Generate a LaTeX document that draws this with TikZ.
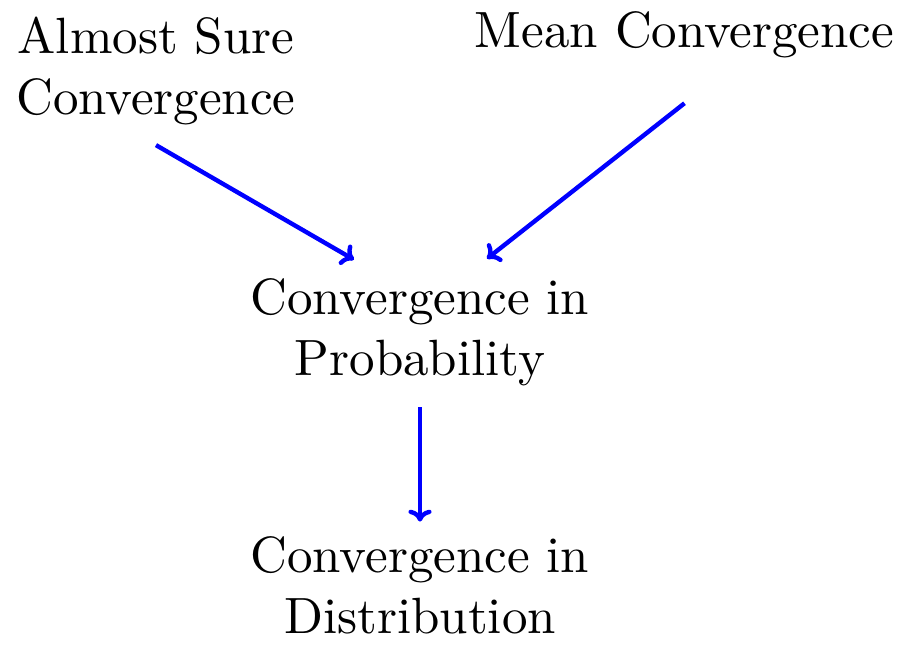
\documentclass[tikz,border=0pt]{standalone}
\usepackage{tikz}
\usetikzlibrary{arrows.meta,calc}
\tikzset{
  imply/.style={-{To[length=6pt,width=11.5pt]},line width=2.2pt,draw=blue},
  conv/.style={align=center,inner sep=0pt,scale=2.55}
}

\begin{document}
\begin{tikzpicture}[x=0.5pt,y=-0.5pt]
  \useasboundingbox (0,0) rectangle (902,653);

  \node[conv] (almost) at (156,71) {Almost Sure\\Convergence};
  \node[conv] (mean) at (684.5,35) {Mean Convergence};
  \node[conv] (prob) at (420,332.5) {Convergence in\\Probability};
  \node[conv] (dist) at (420,585.5) {Convergence in\\Distribution};

  \draw[imply] ($(almost.south)+(0,19)$) -- ($(prob.north)+(-66,-18)$);
  \draw[imply] ($(mean.south)+(0,44)$) -- ($(prob.north)+(67,-19)$);
  \draw[imply] ($(prob.south)+(0,20)$) -- ($(dist.north)+(0,-14)$);
\end{tikzpicture}
\end{document}
